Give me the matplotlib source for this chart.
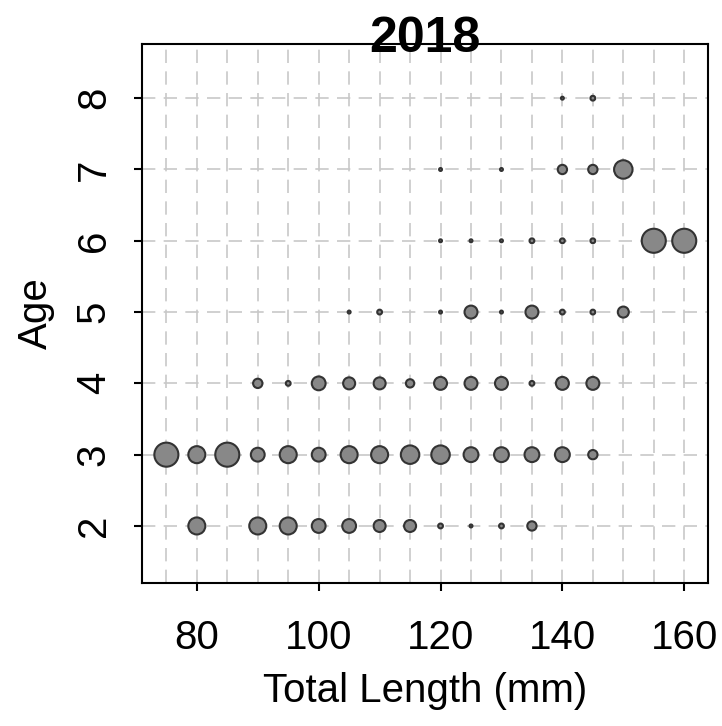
import matplotlib
matplotlib.use('Agg')
import matplotlib.pyplot as plt
import numpy as np

plt.rcParams['font.family'] = ['Liberation Sans', 'DejaVu Sans']

# age-length key: proportion of fish of each age within a 5 mm length bin
tl_age2 = [80, 90, 95, 100, 105, 110, 115, 120, 125, 130, 135]
p_age2 = [0.5, 0.5, 0.5, 0.33, 0.33, 0.25, 0.25, 0.04, 0.015, 0.04, 0.15]

tl_age3 = [75, 80, 85, 90, 95, 100, 105, 110, 115, 120, 125, 130, 135, 140, 145]
p_age3 = [1.0, 0.5, 1.0, 0.33, 0.5, 0.33, 0.5, 0.5, 0.59, 0.59, 0.38, 0.38, 0.38, 0.38, 0.15]

tl_age4 = [90, 95, 100, 105, 110, 115, 120, 125, 130, 135, 140, 145]
p_age4 = [0.15, 0.04, 0.33, 0.25, 0.25, 0.12, 0.29, 0.29, 0.29, 0.04, 0.29, 0.29]

tl_age5 = [105, 110, 120, 125, 130, 135, 140, 145, 150]
p_age5 = [0.015, 0.04, 0.015, 0.29, 0.015, 0.29, 0.04, 0.04, 0.21]

tl_age6 = [120, 125, 130, 135, 140, 145, 155, 160]
p_age6 = [0.015, 0.015, 0.015, 0.04, 0.04, 0.04, 1.0, 1.0]

tl_age7 = [120, 130, 140, 145, 150]
p_age7 = [0.015, 0.015, 0.15, 0.15, 0.59]

tl_age8 = [140, 145]
p_age8 = [0.015, 0.04]

rows = {2: (tl_age2, p_age2), 3: (tl_age3, p_age3), 4: (tl_age4, p_age4),
        5: (tl_age5, p_age5), 6: (tl_age6, p_age6), 7: (tl_age7, p_age7),
        8: (tl_age8, p_age8)}

fig = plt.figure(figsize=(7.22, 7.26), dpi=100)
ax = fig.add_axes([142 / 722, 1 - 583 / 726, (708 - 142) / 722, (583 - 44) / 726])

# dashed reference grid every 5 mm and every year
for x in np.arange(75, 161, 5):
    ax.axvline(x, color='#c8c8c8', linewidth=1.2, linestyle=(0, (8, 5)), zorder=1)
for y in range(2, 9):
    ax.axhline(y, color='#c8c8c8', linewidth=1.2, linestyle=(0, (8, 5)), zorder=1)

for age, (tl, p) in rows.items():
    ax.scatter(tl, [age] * len(tl), s=300 * np.asarray(p), facecolor='#888888',
               edgecolor='#333333', linewidth=1.5, zorder=3)

ax.set_xlim(71.0, 163.9)
ax.set_ylim(1.2, 8.76)
ax.set_xticks([80, 100, 120, 140, 160])
ax.set_yticks(range(2, 9))
ax.tick_params(axis='both', labelsize=29, length=6, width=1.5, color='black')
ax.tick_params(axis='x', pad=20)
ax.tick_params(axis='y', pad=15)
for lab in ax.get_yticklabels():
    lab.set_rotation(90)
    lab.set_va('center')
for sp in ax.spines.values():
    sp.set_linewidth(1.5)

ax.set_xlabel('Total Length (mm)', fontsize=29, labelpad=11)
ax.set_ylabel('Age', fontsize=29, labelpad=14)
fig.text(425 / 722, 1 - 52 / 726, '2018', fontsize=36, fontweight='bold',
         ha='center', va='baseline')

fig.savefig('out.png', dpi=100)
